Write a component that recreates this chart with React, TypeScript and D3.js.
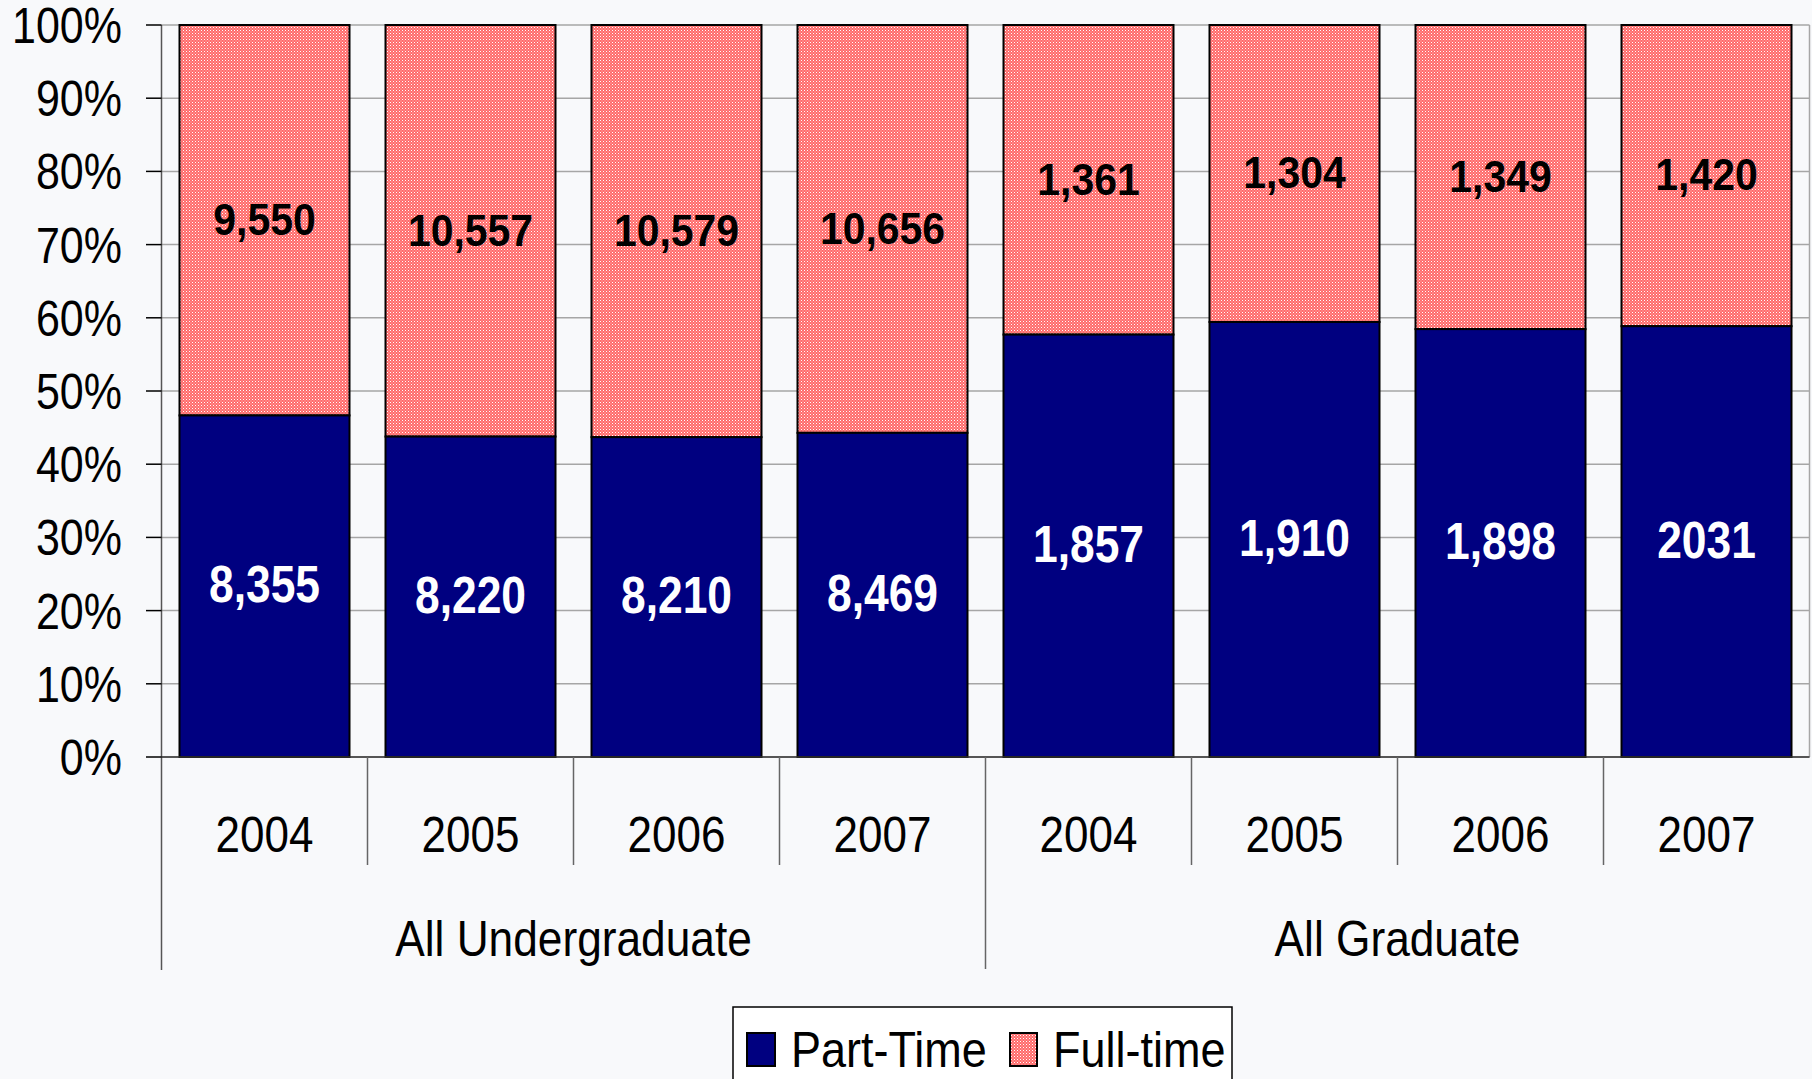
import React from "react";
import * as d3 from "d3";

const years = ["2004", "2005", "2006", "2007", "2004", "2005", "2006", "2007"];
const groups = ["All Undergraduate", "All Graduate"];
const groupSizes = [4, 4];
const partTime = [8355, 8220, 8210, 8469, 1857, 1910, 1898, 2031];
const fullTime = [9550, 10557, 10579, 10656, 1361, 1304, 1349, 1420];
const partTimeLabels = ["8,355", "8,220", "8,210", "8,469", "1,857", "1,910", "1,898", "2031"];
const fullTimeLabels = ["9,550", "10,557", "10,579", "10,656", "1,361", "1,304", "1,349", "1,420"];
const yTicks = [0, 0.1, 0.2, 0.3, 0.4, 0.5, 0.6, 0.7, 0.8, 0.9, 1.0];
const seriesNames = ["Part-Time", "Full-time"];

const W = 1812;
const H = 1079;
const left = 161.5;
const right = 1809.5;
const top = 25;
const bottom = 757;
const FONT = "'Liberation Sans', Arial, sans-serif";
const NAVY = "#000080";

function SText({ x, y, size, sx = 0.86, anchor = "middle", weight = "normal", fill = "#000", children }: any) {
  return (
    <text
      transform={`translate(${x},${y}) scale(${sx},1)`}
      fontFamily={FONT}
      fontSize={size}
      fontWeight={weight}
      textAnchor={anchor}
      fill={fill}
    >
      {children}
    </text>
  );
}

export default function App() {
  const idx = years.map((_, i) => i);
  const step = (right - left) / years.length;
  const pad = 36 / step;
  const x = d3.scaleBand<number>().domain(idx).range([left, right]).paddingInner(pad).paddingOuter(pad / 2);
  const y = d3.scaleLinear().domain([0, 1]).range([bottom, top]);

  const stacked = idx.map((i) => {
    const tot = partTime[i] + fullTime[i];
    return { p: partTime[i] / tot };
  });

  const groupStarts: number[] = [];
  let acc = 0;
  groupSizes.forEach((g) => {
    groupStarts.push(acc);
    acc += g;
  });

  return (
    <svg width={W} height={H} style={{ position: "absolute", left: 0, top: 0, display: "block" }}>
      <defs>
        <pattern id="pink" width="3" height="3" patternUnits="userSpaceOnUse">
          <rect width="3" height="3" fill="#ff6a6a" />
          <rect width="1" height="1" fill="#ffffff" />
          <rect x="1.5" y="1.5" width="1" height="1" fill="#ffc8c8" />
        </pattern>
      </defs>
      <rect width={W} height={H} fill="#f8f9fb" />

      {/* gridlines */}
      {yTicks.map((t) => (
        <line key={"g" + t} x1={left} x2={right} y1={y(t)} y2={y(t)} stroke="#a6a6a6" strokeWidth={1.5} />
      ))}
      <line x1={right} x2={right} y1={top} y2={bottom} stroke="#a6a6a6" strokeWidth={1.5} />

      {/* bars */}
      {idx.map((i) => {
        const bx = x(i)!;
        const bw = x.bandwidth();
        const yp = y(stacked[i].p);
        return (
          <g key={"b" + i}>
            <rect x={bx} y={y(1)} width={bw} height={yp - y(1)} fill="url(#pink)" stroke="#000" strokeWidth={2} />
            <rect x={bx} y={yp} width={bw} height={y(0) - yp} fill={NAVY} stroke="#000" strokeWidth={2} />
          </g>
        );
      })}

      {/* axes */}
      <line x1={left} x2={left} y1={top} y2={970} stroke="#555" strokeWidth={1.5} />
      <line x1={left} x2={right} y1={bottom} y2={bottom} stroke="#333" strokeWidth={1.5} />
      {yTicks.map((t) => (
        <line key={"t" + t} x1={146} x2={left} y1={y(t)} y2={y(t)} stroke="#000" strokeWidth={1.5} />
      ))}
      {yTicks.map((t) => (
        <SText key={"yl" + t} x={122} y={y(t) + 18} size={50} anchor="end">
          {d3.format(".0%")(t)}
        </SText>
      ))}

      {/* category separators */}
      {d3.range(1, years.length).map((k) => {
        const bx = left + k * step;
        const isGroup = groupStarts.includes(k);
        return (
          <line key={"s" + k} x1={bx} x2={bx} y1={bottom} y2={isGroup ? 969 : 865} stroke="#666" strokeWidth={1.5} />
        );
      })}

      {years.map((yr, i) => (
        <SText key={"yr" + i} x={x(i)! + x.bandwidth() / 2} y={852} size={50} sx={0.88}>
          {yr}
        </SText>
      ))}
      {groups.map((g, gi) => {
        const s = groupStarts[gi];
        const cx = left + (s + groupSizes[gi] / 2) * step;
        return (
          <SText key={"gr" + gi} x={cx} y={956} size={50} sx={0.885}>
            {g}
          </SText>
        );
      })}

      {/* data labels */}
      {idx.map((i) => {
        const cx = x(i)! + x.bandwidth() / 2;
        const yp = y(stacked[i].p);
        const cFull = (y(1) + yp) / 2;
        const cPart = (yp + y(0)) / 2;
        return (
          <g key={"l" + i}>
            <SText x={cx} y={cFull + 0.716 * 44 / 2 - 1} size={44} sx={0.93} weight="bold">
              {fullTimeLabels[i]}
            </SText>
            <SText x={cx} y={cPart + 0.716 * 51 / 2 - 2} size={51} sx={0.87} weight="bold" fill="#fff">
              {partTimeLabels[i]}
            </SText>
          </g>
        );
      })}

      {/* legend */}
      <rect x={733} y={1007} width={499} height={100} fill="#ffffff" stroke="#000" strokeWidth={1.5} />
      <rect x={747} y={1033} width={28} height={33} fill={NAVY} stroke="#000" strokeWidth={2} />
      <SText x={791} y={1067} size={50} sx={0.9} anchor="start">
        {seriesNames[0]}
      </SText>
      <rect x={1010} y={1033} width={27} height={33} fill="url(#pink)" stroke="#000" strokeWidth={2} />
      <SText x={1053} y={1067} size={50} sx={0.9} anchor="start">
        {seriesNames[1]}
      </SText>
    </svg>
  );
}
